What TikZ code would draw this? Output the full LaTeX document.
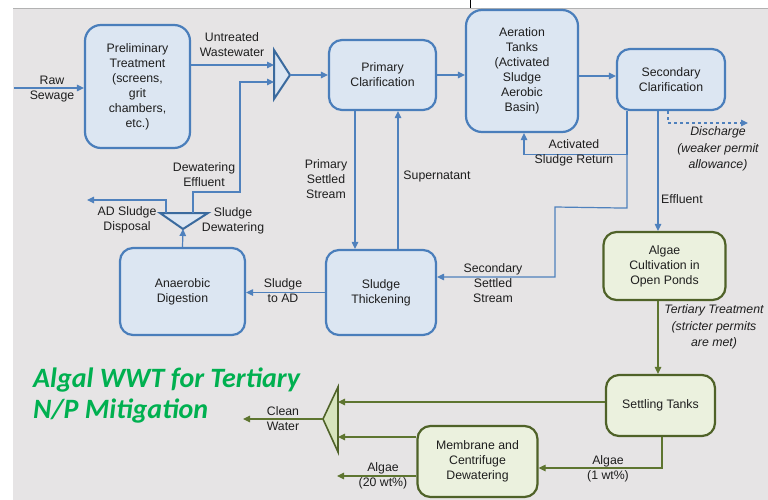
\documentclass[tikz,border=0pt]{standalone}
\usepackage{fontspec}
\setmainfont{Liberation Sans}
\newfontfamily\titlefont{Carlito}
\usetikzlibrary{arrows.meta,calc}
\definecolor{bluefill}{HTML}{DCE6F2}
\definecolor{blueline}{HTML}{4F81BD}
\definecolor{blueedge}{HTML}{4A7EBB}
\definecolor{tribluedge}{HTML}{3A6A9E}
\definecolor{greenfill}{HTML}{EBF1DE}
\definecolor{greenedge}{HTML}{4F6228}
\definecolor{greenline}{HTML}{5E7530}
\definecolor{trigreenfill}{HTML}{D7E4BD}
\definecolor{bg}{HTML}{E6E4E5}
\definecolor{titlegreen}{HTML}{00B050}
\definecolor{txt}{HTML}{1E1E1E}
\begin{document}
\begin{tikzpicture}[x=1pt,y=-1pt,
  font=\fontsize{12.3}{15}\selectfont, text=txt,
  bluebox/.style={draw=blueedge, line width=2.2pt, fill=bluefill, rounded corners=13pt, align=center, inner sep=2pt},
  greenbox/.style={draw=greenedge, line width=2.2pt, fill=greenfill, rounded corners=13pt, align=center, inner sep=2pt},
  flow/.style={draw=blueline, line width=1.2pt, -{Triangle[length=7pt,width=6.5pt]}},
  gflow/.style={draw=greenline, line width=1.2pt, -{Triangle[length=7pt,width=6.5pt]}},
  lbl/.style={align=center, inner sep=0pt},
  ilbl/.style={align=center, inner sep=0pt, font=\fontsize{12.3}{16.5}\selectfont\itshape},
  bluetri/.style={draw=tribluedge, line width=2pt, fill=bluefill, line join=miter},
  greentri/.style={draw=greenedge, line width=1.6pt, fill=trigreenfill, line join=miter},
]
% background
\useasboundingbox (0,0) rectangle (768,500);
\fill[white] (0,0) rectangle (768,500);
\fill[bg] (13,8) rectangle (768,500);
\draw[gray!60, line width=0.8pt] (13,8) -- (768,8);
\draw[black, line width=1pt] (470,0) -- (470,8);

% process boxes
\node[bluebox, minimum width=105pt, minimum height=123pt, rounded corners=16pt] (pre) at (137.5,86.5) {Preliminary\\Treatment\\(screens,\\grit\\chambers,\\etc.)};
\node[bluebox, minimum width=107pt, minimum height=70pt] (pc) at (382.5,75) {Primary\\Clarification};
\node[bluebox, minimum width=112pt, minimum height=122pt, rounded corners=16pt] (at) at (522,71) {Aeration\\Tanks\\(Activated\\Sludge\\Aerobic\\Basin)};
\node[bluebox, minimum width=108pt, minimum height=61pt] (sc) at (671,79.5) {Secondary\\Clarification};
\node[bluebox, minimum width=125pt, minimum height=87pt] (ad) at (182.5,291.5) {Anaerobic\\Digestion};
\node[bluebox, minimum width=110pt, minimum height=85pt] (st) at (381,292.5) {Sludge\\Thickening};
\node[greenbox, minimum width=122pt, minimum height=68pt] (ac) at (664.5,266) {Algae\\Cultivation in\\Open Ponds};
\node[greenbox, minimum width=109pt, minimum height=61pt] (set) at (660.5,405.5) {Settling Tanks};
\node[greenbox, minimum width=120pt, minimum height=71pt] (mem) at (477.5,461.5) {Membrane and\\Centrifuge\\Dewatering};

% mixing triangle (top)
\draw[bluetri] (274,50) -- (290,75) -- (274,99) -- cycle;
\coordinate (mixT) at (290,75);
\coordinate (mixin1) at (274,65);
\coordinate (mixin2) at (274,82);
% sludge dewatering triangle
\draw[bluetri] (160,213) -- (208,213) -- (183,229) -- cycle;
\coordinate (dwT) at (183,229);
\coordinate (dwout1) at (193,213);
\coordinate (dwout2) at (166,213);
% clean water triangle
\draw[greentri] (338,387) -- (338,452) -- (323,419) -- cycle;
\coordinate (cwT) at (323,419);
\coordinate (cwin1) at (338,402);
\coordinate (cwin2) at (338,437);

% free ends and bends
\coordinate (rawstart) at (14,88);
\coordinate (disend) at (748,123);
\coordinate (sssb) at (555,277);
\coordinate (adsend) at (87,200);
\coordinate (algend) at (337,476);
\coordinate (cwend) at (243,419);

% connectors (blue)
\draw[flow] (rawstart) -- (rawstart -| pre.west);
\draw[flow] (pre.east |- mixin1) -- (mixin1);
\draw[flow] (dwout1) -- (193,192) -- (240,192) -- (240,82) -- (mixin2);
\draw[flow] (mixT) -- (mixT -| pc.west);
\draw[flow] (pc.east) -- (at.west |- pc.east);
\draw[flow] ([yshift=3.5pt]sc.west -| at.east) -- ([yshift=3.5pt]sc.west);
\draw[flow] ([xshift=-44pt]sc.south) -- ++(0,43) -| ([xshift=2pt]at.south);
\draw[flow] ([xshift=-44pt]sc.south) -- ++(0,97) -- (555,207) -- (sssb) -- (st.east |- sssb);
\draw[flow] ([xshift=-13pt]sc.south) -- ([xshift=-13pt]sc.south |- ac.north);
\draw[draw=blueline, line width=1.2pt, dashed, -{Triangle[length=7pt,width=6.5pt]}] ([xshift=-3pt]sc.south) |- (disend);
\draw[flow] ([xshift=-27.5pt]pc.south) -- ([xshift=-27.5pt]pc.south |- st.north);
\draw[flow] ([xshift=17pt]st.north) -- ([xshift=17pt]st.north |- pc.south);
\draw[flow] (st.west) -- (ad.east |- st.west);
\draw[flow] (ad.north) -- (dwT);
\draw[flow] (dwout2) -- (166,200) -- (adsend);

% connectors (green)
\draw[gflow] ([xshift=-6.5pt]ac.south) -- ([xshift=-6.5pt]ac.south |- set.north);
\draw[gflow] (set.west |- cwin1) -- (cwin1);
\draw[gflow] (mem.west |- cwin2) -- (cwin2);
\draw[gflow] ([xshift=1.5pt]set.south) |- ([yshift=-6.5pt]mem.east);
\draw[gflow] ([yshift=-14.5pt]mem.west) -- (algend);
\draw[gflow] (cwT) -- (cwend);

% labels
\node[lbl] (l1) at (52,89) {Raw\\Sewage};
\node[lbl] (l2) at (232,45) {Untreated\\Wastewater};
\node[lbl] (l3) at (204,175) {Dewatering\\Effluent};
\node[lbl] (l4) at (326,179.5) {Primary\\Settled\\Stream};
\node[lbl] (l5) at (437,176) {Supernatant};
\node[lbl] (l6) at (574,152.5) {Activated\\Sludge Return};
\node[ilbl] (l7) at (718,149) {Discharge\\(weaker permit\\allowance)};
\node[lbl, anchor=west] (l8) at (661,199) {Effluent};
\node[lbl] (l9) at (493,283) {Secondary\\Settled\\Stream};
\node[lbl] (l10) at (283,291) {Sludge\\to AD};
\node[lbl] (l11) at (127,219.5) {AD Sludge\\Disposal};
\node[lbl] (l12) at (233,220.5) {Sludge\\Dewatering};
\node[ilbl] (l13) at (714,327) {Tertiary Treatment\\(stricter permits\\are met)};
\node[lbl] (l14) at (283,418.5) {Clean\\Water};
\node[lbl] (l15) at (383,475.5) {Algae\\(20 wt\%)};
\node[lbl] (l16) at (608,469) {Algae\\(1 wt\%)};

% title
\node[anchor=base west, inner sep=0pt, text=titlegreen, font=\titlefont\bfseries\itshape\fontsize{28}{31}\selectfont] (t1) at (33,387) {Algal WWT for Tertiary};
\node[anchor=base west, inner sep=0pt, text=titlegreen, font=\titlefont\bfseries\itshape\fontsize{28}{31}\selectfont] (t2) at (33,418) {N/P Mitigation};
\end{tikzpicture}
\end{document}
